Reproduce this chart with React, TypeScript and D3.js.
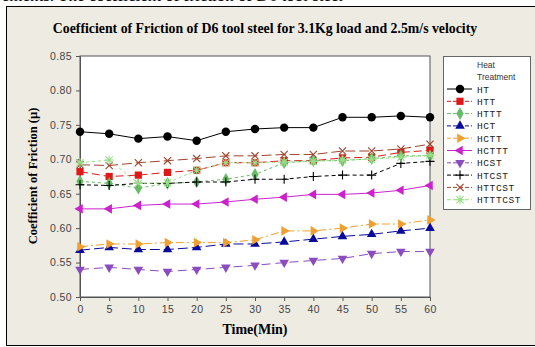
import React, { useEffect, useRef } from 'react';
import * as d3 from 'd3';

const times = [0, 5, 10, 15, 20, 25, 30, 35, 40, 45, 50, 55, 60];
const yTicks = [0.5, 0.55, 0.6, 0.65, 0.7, 0.75, 0.8, 0.85];

const ht = [0.74, 0.737, 0.73, 0.733, 0.727, 0.74, 0.744, 0.746, 0.746, 0.761, 0.761, 0.763, 0.761];
const htt = [0.682, 0.675, 0.677, 0.681, 0.684, 0.695, 0.695, 0.698, 0.698, 0.702, 0.703, 0.71, 0.713];
const httt = [0.668, 0.665, 0.658, 0.665, 0.667, 0.671, 0.678, 0.695, 0.698, 0.698, 0.701, 0.705, 0.705];
const hct = [0.568, 0.572, 0.569, 0.569, 0.572, 0.577, 0.577, 0.58, 0.584, 0.588, 0.591, 0.596, 0.6];
const hctt = [0.573, 0.577, 0.577, 0.579, 0.579, 0.579, 0.583, 0.596, 0.596, 0.6, 0.606, 0.606, 0.612];
const hcttt = [0.628, 0.628, 0.633, 0.635, 0.635, 0.638, 0.642, 0.645, 0.649, 0.649, 0.651, 0.655, 0.662];
const hcst = [0.54, 0.543, 0.54, 0.537, 0.54, 0.543, 0.546, 0.55, 0.553, 0.556, 0.563, 0.566, 0.566];
const htcst = [0.663, 0.662, 0.665, 0.665, 0.667, 0.667, 0.671, 0.671, 0.675, 0.677, 0.677, 0.694, 0.697];
const httcst = [0.692, 0.691, 0.695, 0.698, 0.701, 0.705, 0.705, 0.707, 0.707, 0.712, 0.712, 0.715, 0.722];
const htttcst = [0.695, 0.699, 0.665, 0.666, 0.684, 0.695, 0.695, 0.696, 0.697, 0.699, 0.7, 0.703, 0.706];

const series = [
  { name: 'HT', values: ht, color: '#000000', dash: null, marker: 'circle' },
  { name: 'HTT', values: htt, color: '#e01818', dash: '8,4', marker: 'square' },
  { name: 'HTTT', values: httt, color: '#66bb66', dash: '3,3', marker: 'diamond' },
  { name: 'HCT', values: hct, color: '#0a0a9a', dash: '10,4', marker: 'up' },
  { name: 'HCTT', values: hctt, color: '#f0a030', dash: '8,3,2,3', marker: 'right' },
  { name: 'HCTTT', values: hcttt, color: '#cc22cc', dash: null, marker: 'left' },
  { name: 'HCST', values: hcst, color: '#8a4cbf', dash: '9,5', marker: 'down' },
  { name: 'HTCST', values: htcst, color: '#000000', dash: '4,3', marker: 'plus' },
  { name: 'HTTCST', values: httcst, color: '#a0442e', dash: '10,4', marker: 'x' },
  { name: 'HTTTCST', values: htttcst, color: '#99dd88', dash: '3,3', marker: 'star' },
];

const drawMarker = (g, type, cx, cy, color) => {
  const rot = { up: 0, right: 90, down: 180, left: -90 };
  if (type === 'plus' || type === 'x' || type === 'star') {
    const r = 4.5;
    let d = '';
    if (type !== 'x') d += `M${cx - r},${cy}H${cx + r}M${cx},${cy - r}V${cy + r}`;
    if (type !== 'plus') {
      const k = r * 0.8;
      d += `M${cx - k},${cy - k}L${cx + k},${cy + k}M${cx - k},${cy + k}L${cx + k},${cy - k}`;
    }
    g.append('path').attr('d', d).attr('stroke', color).attr('stroke-width', 1.1).attr('fill', 'none');
    return;
  }
  let sym = d3.symbolTriangle;
  let size = 40;
  if (type === 'circle') { sym = d3.symbolCircle; size = 56; }
  if (type === 'square') { sym = d3.symbolSquare; size = 52; }
  if (type === 'diamond') { sym = d3.symbolDiamond; size = 46; }
  g.append('path')
    .attr('d', d3.symbol().type(sym).size(size)())
    .attr('transform', `translate(${cx},${cy}) rotate(${rot[type] || 0})`)
    .attr('fill', color);
};

const App = () => {
  const ref = useRef(null);

  useEffect(() => {
    const svg = d3.select(ref.current);
    svg.selectAll('*').remove();

    const x = d3.scaleLinear().domain([0, 60]).range([80, 430]);
    const y = d3.scaleLinear().domain([0.5, 0.85]).range([297, 56]);

    svg.append('rect').attr('width', 535).attr('height', 347).attr('fill', '#ffffff');
    svg.append('text')
      .attr('x', -4).attr('y', 1)
      .attr('font-family', 'Liberation Serif').attr('font-size', 17)
      .text('rements. The coefficient of friction of D6 tool steel');
    svg.append('rect')
      .attr('x', 6.5).attr('y', 6.5).attr('width', 600).attr('height', 339)
      .attr('fill', '#eeebe3').attr('stroke', '#000');

    svg.append('text')
      .attr('x', 265).attr('y', 33).attr('text-anchor', 'middle')
      .attr('font-family', 'Liberation Serif').attr('font-weight', 'bold').attr('font-size', 13.8)
      .text('Coefficient of Friction of D6 tool steel for 3.1Kg load and 2.5m/s velocity');

    svg.append('rect')
      .attr('x', 80).attr('y', 56).attr('width', 350).attr('height', 241)
      .attr('fill', '#fff').attr('stroke', '#555');

    const yAxis = svg.append('g').attr('transform', 'translate(80,0)')
      .call(d3.axisLeft(y).tickValues(yTicks).tickSize(4).tickPadding(4).tickFormat(d3.format('.2f')));
    const xAxis = svg.append('g').attr('transform', 'translate(0,297)')
      .call(d3.axisBottom(x).tickValues(times).tickSize(4).tickPadding(5));
    [yAxis, xAxis].forEach((a) => {
      a.select('.domain').attr('stroke', '#555');
      a.selectAll('line').attr('stroke', '#555');
      a.selectAll('text')
        .attr('font-family', 'Liberation Sans').attr('font-size', 10.5)
        .attr('fill', '#444').attr('letter-spacing', 0.4);
    });

    svg.append('text')
      .attr('transform', 'translate(37,176) rotate(-90)').attr('text-anchor', 'middle')
      .attr('font-family', 'Liberation Serif').attr('font-weight', 'bold').attr('font-size', 12.5)
      .text('Coefficient of Friction (µ)');
    svg.append('text')
      .attr('x', 255).attr('y', 334).attr('text-anchor', 'middle')
      .attr('font-family', 'Liberation Serif').attr('font-weight', 'bold').attr('font-size', 14)
      .text('Time(Min)');

    const line = d3.line().x((d, i) => x(times[i])).y((d) => y(d));

    series.forEach((s) => {
      const g = svg.append('g');
      g.append('path')
        .attr('d', line(s.values))
        .attr('fill', 'none')
        .attr('stroke', s.color)
        .attr('stroke-width', 1)
        .attr('stroke-dasharray', s.dash);
      s.values.forEach((v, i) => drawMarker(g, s.marker, x(times[i]), y(v), s.color));
    });

    // legend
    const lg = svg.append('g');
    lg.append('rect')
      .attr('x', 443.5).attr('y', 56.5).attr('width', 87).attr('height', 153)
      .attr('fill', '#fff').attr('stroke', '#666');
    lg.append('text').attr('x', 477).attr('y', 68)
      .attr('font-family', 'Liberation Sans').attr('font-size', 8.5).attr('fill', '#333').text('Heat');
    lg.append('text').attr('x', 477).attr('y', 80)
      .attr('font-family', 'Liberation Sans').attr('font-size', 8.5).attr('fill', '#333').text('Treatment');
    series.forEach((s, i) => {
      const cy = 89 + i * 12.3;
      lg.append('line')
        .attr('x1', 447).attr('x2', 472).attr('y1', cy).attr('y2', cy)
        .attr('stroke', s.color).attr('stroke-dasharray', s.dash ? '4,2' : null);
      drawMarker(lg, s.marker, 460, cy, s.color);
      lg.append('text')
        .attr('x', 477).attr('y', cy + 3.5)
        .attr('font-family', 'Liberation Mono').attr('font-size', 9.5)
        .attr('letter-spacing', 0.6).attr('fill', '#222')
        .text(s.name);
    });
  }, []);

  return (
    <svg ref={ref} width={535} height={347} style={{ position: 'absolute', left: 0, top: 0 }}></svg>
  );
};

export default App;
